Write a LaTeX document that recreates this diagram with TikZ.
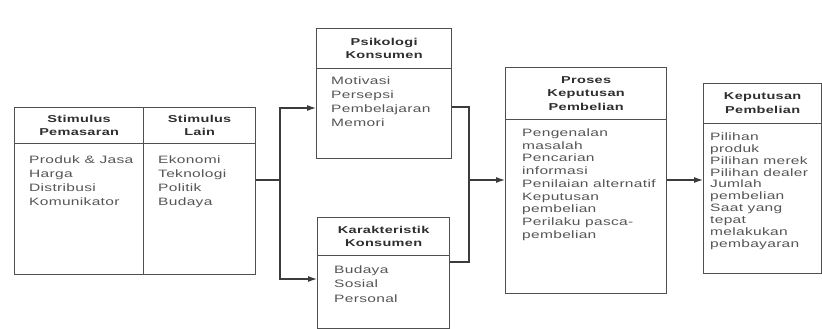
\documentclass[tikz,border=0pt]{standalone}
\usepackage{fontspec}
\setmainfont{Liberation Sans}
\newfontfamily\diagfont[FakeStretch=1.45,LetterSpace=3]{Liberation Sans}
\usetikzlibrary{arrows.meta,calc}
\definecolor{linegray}{HTML}{3C3C3C}
\definecolor{boxgray}{HTML}{505050}
\definecolor{headgray}{HTML}{2E2E2E}
\definecolor{bodygray}{HTML}{555555}
\tikzset{
	box/.style={draw=boxgray, line width=1.3pt, anchor=north west, inner sep=0pt},
	head/.style={anchor=north, inner sep=0pt, align=center, text=headgray, font=\diagfont\bfseries\fontsize{10}{13.5}\selectfont},
	body/.style={anchor=north west, inner sep=0pt, align=left, text=bodygray, font=\diagfont\fontsize{10.7}{#1}\selectfont},
	body/.default=14,
	divider/.style={draw=boxgray, line width=1.1pt},
	link/.style={draw=linegray, line width=1.1pt}
}
\begin{document}
\begin{tikzpicture}[x=1pt, y=-1pt, >={Latex[length=9pt,width=6pt]}]
		\useasboundingbox (0,0) rectangle (822,329);
		\node[box, minimum width=129pt, minimum height=167pt] (sp) at (14,107) {};
		\node[box, minimum width=112pt, minimum height=167pt] (sl) at (143,107) {};
		\node[box, minimum width=135pt, minimum height=130pt] (pk) at (316,28) {};
		\node[box, minimum width=132pt, minimum height=111pt] (kk) at (317,217) {};
		\node[box, minimum width=161pt, minimum height=226pt] (pp) at (505,67) {};
		\node[box, minimum width=118pt, minimum height=190pt] (kp) at (703,83) {};
		\node[head, minimum height=36pt] (sph) at (sp.north) {Stimulus\\Pemasaran};
		\node[head, minimum height=36pt] (slh) at (sl.north) {Stimulus\\Lain};
		\node[head, minimum height=40pt] (pkh) at (pk.north) {Psikologi\\Konsumen};
		\node[head, minimum height=38pt] (kkh) at (kk.north) {Karakteristik\\Konsumen};
		\node[head, minimum height=52pt] (pph) at (pp.north) {Proses\\Keputusan\\Pembelian};
		\node[head, minimum height=40pt] (kph) at (kp.north) {Keputusan\\Pembelian};
		\draw[divider] (sph.south -| sp.west) -- (sph.south -| sl.east);
		\draw[divider] (pkh.south -| pk.west) -- (pkh.south -| pk.east);
		\draw[divider] (kkh.south -| kk.west) -- (kkh.south -| kk.east);
		\draw[divider] (pph.south -| pp.west) -- (pph.south -| pp.east);
		\draw[divider] (kph.south -| kp.west) -- (kph.south -| kp.east);
		\node[body] (spb) at ($(sph.south -| sp.west)+(15,12)$) {Produk \& Jasa\\Harga\\Distribusi\\Komunikator};
		\node[body] (slb) at ($(slh.south -| sl.west)+(15,12)$) {Ekonomi\\Teknologi\\Politik\\Budaya};
		\node[body] (pkb) at ($(pkh.south -| pk.west)+(15,8)$) {Motivasi\\Persepsi\\Pembelajaran\\Memori};
		\node[body=14.5] (kkb) at ($(kkh.south -| kk.west)+(17,10)$) {Budaya\\Sosial\\Personal};
		\node[body=12.75] (ppb) at ($(pph.south -| pp.west)+(17,9)$) {Pengenalan\\masalah\\Pencarian\\informasi\\Penilaian alternatif\\Keputusan\\pembelian\\Perilaku pasca-\\pembelian};
		\node[body=11.9] (kpb) at ($(kph.south -| kp.west)+(7,9)$) {Pilihan\\produk\\Pilihan merek\\Pilihan dealer\\Jumlah\\pembelian\\Saat yang\\tepat\\melakukan\\pembayaran};
		\coordinate (split) at (280,180);
		\coordinate (up) at (280,108);
		\coordinate (down) at (280,279);
		\coordinate (join) at (469,180);
		\coordinate (pkout) at (469,107);
		\coordinate (kkout) at (469,262);
		\draw[link] (split -| sl.east) -- (split);
		\draw[link, ->] (split) -- (up) -- (up -| pk.west);
		\draw[link, ->] (split) -- (down) -- (down -| kk.west);
		\draw[link] (pkout -| pk.east) -- (pkout) -- (kkout) -- (kkout -| kk.east);
		\draw[link, ->] (join) -- (join -| pp.west);
		\draw[link, ->] (join -| pp.east) -- (join -| kp.west);
\end{tikzpicture}
\end{document}
